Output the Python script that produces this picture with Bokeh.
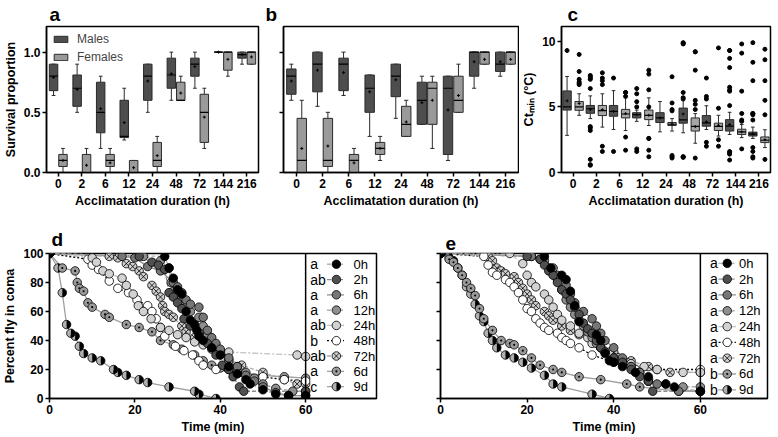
import numpy as np
from bokeh.plotting import figure
from bokeh.layouts import column, row
from bokeh.models import (Range1d, FixedTicker, NumeralTickFormatter, Legend,
                          LegendItem, Span, ColumnDataSource, CustomJSTickFormatter)
from bokeh.transform import dodge
from bokeh.embed import file_html
from bokeh.resources import INLINE
from bokeh.core.properties import value

FONT = "Liberation Sans"

# ---------------- data ----------------
durations = ["0", "2", "6", "12", "24", "48", "72", "144", "216"]

# box stats per duration: (whisker_low, q1, median, q3, whisker_high, mean)
a_males = [(0.64, 0.68, 0.80, 0.90, 0.90, 0.79), (0.50, 0.55, 0.70, 0.81, 0.90, 0.69),
           (0.20, 0.33, 0.50, 0.75, 0.80, 0.53), (0.27, 0.29, 0.30, 0.60, 0.70, 0.415),
           (0.50, 0.60, 0.80, 0.90, 0.90, 0.76), (0.60, 0.70, 0.81, 0.95, 1.00, 0.82),
           (0.70, 0.80, 0.90, 0.95, 1.00, 0.88), (1.00, 1.00, 1.00, 1.00, 1.00, 1.00),
           (0.90, 0.95, 0.98, 1.00, 1.00, 0.98)]
a_females = [(0.0, 0.05, 0.10, 0.15, 0.20, 0.10), (0.0, 0.0, 0.0, 0.15, 0.20, 0.06),
             (0.0, 0.05, 0.10, 0.15, 0.20, 0.08), (0.0, 0.0, 0.0, 0.10, 0.10, 0.04),
             (0.0, 0.05, 0.10, 0.25, 0.30, 0.14), (0.60, 0.60, 0.60, 0.75, 0.80, 0.66),
             (0.20, 0.25, 0.50, 0.65, 0.70, 0.46), (0.80, 0.85, 1.00, 1.00, 1.00, 0.94),
             (0.90, 0.90, 1.00, 1.00, 1.00, 0.96)]
b_males = [(0.60, 0.65, 0.80, 0.86, 0.90, 0.76), (0.55, 0.67, 0.90, 1.00, 1.00, 0.85),
           (0.64, 0.68, 0.90, 0.95, 1.00, 0.83), (0.30, 0.50, 0.70, 0.81, 0.81, 0.67),
           (0.45, 0.63, 0.80, 0.90, 0.90, 0.77), (0.40, 0.40, 0.60, 0.75, 0.80, 0.58),
           (0.10, 0.15, 0.70, 0.80, 0.80, 0.52), (0.70, 0.80, 1.00, 1.00, 1.00, 0.92),
           (0.80, 0.84, 0.90, 1.00, 1.00, 0.92)]
b_females = [(0.0, 0.0, 0.10, 0.45, 0.60, 0.20), (0.0, 0.05, 0.10, 0.45, 0.50, 0.22),
             (0.0, 0.0, 0.10, 0.15, 0.20, 0.08), (0.10, 0.15, 0.20, 0.25, 0.30, 0.20),
             (0.30, 0.30, 0.40, 0.55, 0.60, 0.42), (0.20, 0.40, 0.70, 0.75, 0.80, 0.60),
             (0.50, 0.50, 0.60, 0.80, 0.90, 0.64), (0.90, 0.90, 1.00, 1.00, 1.00, 0.94),
             (0.90, 0.90, 1.00, 1.00, 1.00, 0.94)]
c_males = [(2.83, 4.76, 5.00, 6.22, 7.32, 5.46), (4.11, 4.51, 4.86, 5.11, 5.84, 4.80),
           (3.28, 4.29, 4.66, 5.11, 6.24, 4.66), (3.90, 4.16, 4.41, 4.56, 4.76, 4.41),
           (3.10, 3.81, 4.16, 4.56, 5.41, 4.16), (3.03, 3.76, 4.01, 4.91, 5.79, 4.46),
           (3.28, 3.53, 3.78, 4.34, 5.09, 3.86), (2.90, 3.16, 3.53, 4.03, 4.59, 3.66),
           (2.60, 2.78, 2.93, 3.08, 3.46, 2.95)]
c_females = [(4.36, 4.74, 5.00, 5.41, 6.00, 5.26), (3.46, 4.34, 4.71, 5.11, 6.00, 4.79),
             (3.20, 4.16, 4.46, 4.81, 5.84, 4.49), (3.58, 4.03, 4.36, 4.76, 5.69, 4.36),
             (3.16, 3.58, 3.68, 3.81, 4.11, 3.70), (2.23, 3.16, 3.51, 4.16, 4.49, 3.50),
             (2.78, 3.20, 3.51, 3.76, 4.36, 3.60), (2.66, 2.90, 3.10, 3.30, 3.66, 3.10),
             (1.90, 2.28, 2.46, 2.71, 3.26, 2.50)]
c_males_out = [[9.3], [7.4, 7.3, 7.2, 7.1, 6.4, 3.5, 3.4, 3.2, 1.0, 0.6, 0.55], [7.2, 1.6],
               [6.4, 6.0, 5.4, 5.0, 1.8, 1.6], [], [9.9, 9.85, 9.8, 6.1, 5.7, 5.6, 1.2, 1.2, 1.15],
               [7.2, 5.8, 5.6, 2.3, 2.0], [9.3, 9.3, 8.7, 8.0, 6.5, 6.3, 6.2, 5.1, 1.6, 1.5, 1.4, 0.95],
               [9.9, 8.4, 7.0, 4.5, 4.5, 4.4, 4.0, 1.9, 1.6, 1.2, 1.1]]
c_females_out = [[9.0, 7.7, 7.1, 6.9, 6.8, 6.7], [7.6, 7.2, 7.0, 6.7, 2.0, 1.6],
                 [6.1, 6.1, 5.8, 2.7, 1.7], [7.8, 7.5, 6.3, 5.0, 2.6, 2.6, 1.7, 1.2],
                 [7.3, 5.3, 4.8, 4.7, 1.3, 1.2, 1.1], [9.2, 9.2, 7.8, 5.5, 5.2, 4.8, 1.1],
                 [9.5, 4.9, 2.5, 2.0], [9.8, 9.1, 6.2, 4.5, 4.0, 3.9, 1.8],
                 [9.4, 8.6, 7.0, 5.5, 4.4, 1.0]]

series_names = ["0h", "2h", "6h", "12h", "24h", "48h", "72h", "6d", "9d"]
d_letters = ["a", "ab", "a", "a", "ab", "b", "ab", "a", "c"]
e_letters = ["a", "a", "a", "a", "a", "a", "a", "b", "b"]

# panel d: (time min, percent in coma)
d_0h = [(0, 100), (27, 98), (28, 90), (29, 83), (30, 75), (31, 72), (32, 60), (33, 54), (34, 51),
        (34.5, 47), (35, 43), (36, 40), (38, 35), (40, 30), (42, 22), (44, 17), (46, 13), (47, 10),
        (50, 6), (53, 3), (56, 2), (60, 2)]
d_2h = [(0, 100), (21, 98), (24, 94), (25.5, 92), (27, 89), (28, 73), (29, 70), (30, 66), (31, 62),
        (31.5, 55), (33, 50), (35, 45), (37, 38), (39, 30), (40.5, 23), (42, 20), (43, 15), (44.5, 8),
        (45.5, 5), (60, 5)]
d_6h = [(0, 100), (17, 98), (20, 97), (23, 91), (26, 88), (29, 80), (30, 77), (31, 73), (32, 68),
        (33, 65), (35, 63), (36, 56), (37, 47), (38, 42), (39, 38), (40, 34), (42, 28), (44, 22),
        (46, 16), (48, 12), (50, 8), (53, 4), (56, 2), (60, 2)]
d_12h = [(0, 100), (22, 98), (26, 95), (28, 90), (28.5, 80), (29, 74), (30, 70), (31, 67), (32, 63),
         (33, 60), (35, 56), (36, 50), (37, 44), (38, 38), (40, 32), (42, 26), (44, 22), (46, 18),
         (48, 14), (50, 10), (53, 7), (57, 5), (60, 5)]
d_24h = [(0, 100), (10, 97), (11, 94), (12.5, 88), (14, 86), (17, 83), (18, 78), (19.6, 72),
         (20.8, 64), (22, 60), (23.8, 55), (26, 49), (28, 47), (30, 44), (32, 42), (34, 39), (36, 37),
         (38, 35), (40, 33), (42, 32), (58, 30), (60, 29)]
d_48h = [(0, 100), (9, 96), (10, 92), (11.5, 89), (14, 81), (16, 76), (18.5, 73), (20.5, 68),
         (23, 64), (24, 60), (25, 55), (26, 49), (27, 43), (29.5, 36), (31.5, 33), (33.5, 30),
         (35, 26), (36, 23), (39, 20), (44, 18), (50, 15), (55, 13), (60, 12)]
d_72h = [(0, 100), (14, 98), (16, 97), (18, 93), (19.5, 91), (21, 88), (22, 84), (24, 78), (25, 74),
         (26, 70), (26.5, 64), (27, 60), (28, 58), (29, 56), (31, 50), (32, 46), (34, 42), (36, 38),
         (38, 34), (40, 30), (42, 27), (45, 23), (50, 18), (55, 13), (58, 10), (60, 10)]
d_6d = [(0, 100), (3, 90), (6, 88), (6.5, 80), (7, 76), (8, 74), (9, 66), (10, 63), (13, 58),
        (14, 56), (18, 51), (21, 49), (24, 46), (26, 40), (29, 37), (31, 34), (34, 30), (36, 26),
        (38, 23), (40, 21), (42, 20), (45, 18), (50, 16), (55, 15), (60, 14)]
d_9d = [(0, 100), (2, 90), (3, 73), (4, 51), (5, 45), (6, 43), (7, 36), (8, 31), (10, 28), (12, 26),
        (15, 20), (16, 18), (18, 16), (21, 13), (23, 11), (28, 8), (34, 5), (35, 3), (39, 0)]

# panel e
e_0h = [(0, 100), (24, 98), (25.5, 90), (28, 85), (29, 82), (30, 74), (31, 64), (32, 53), (36, 44),
        (37, 40), (38, 31), (39, 26), (40, 25), (42, 22), (45, 18), (48, 15), (52, 10), (54, 8), (60, 5)]
e_2h = [(0, 100), (20, 98), (23, 96), (24, 92), (25, 88), (26, 85), (27, 80), (28, 75), (29, 72),
        (30, 68), (31, 63), (32, 58), (33, 52), (34, 48), (35, 45), (36, 40), (37, 35), (38, 32),
        (40, 28), (42, 25), (44, 20), (46, 15), (48, 12), (49, 5), (60, 5)]
e_6h = [(0, 100), (21, 98), (23, 96), (25, 90), (27, 85), (29, 78), (30, 72), (31, 66), (33, 60),
        (35, 55), (36, 50), (37, 45), (38, 40), (40, 35), (42, 28), (44, 22), (46, 18), (48, 12),
        (50, 10), (55, 5), (60, 5)]
e_12h = [(0, 100), (21, 98), (24, 95), (26, 90), (27, 82), (28, 75), (29, 68), (30, 63), (31, 58),
         (32, 54), (33, 50), (34, 46), (35, 42), (36, 38), (37, 35), (38, 32), (40, 28), (42, 25),
         (44, 22), (46, 18), (48, 12), (52, 10), (56, 8), (60, 8)]
e_24h = [(0, 100), (16, 100), (19, 93), (20, 85), (21, 80), (22, 77), (24, 72), (25, 68), (26, 63),
         (27, 58), (28, 54), (30, 50), (32, 45), (34, 42), (35, 38), (37, 35), (39, 32), (41, 28),
         (44, 24), (47, 22), (50, 20), (56, 18), (60, 18)]
e_48h = [(0, 100), (10, 98), (11, 92), (12, 87), (13, 85), (15, 82), (16, 80), (17, 77), (18, 73),
         (19, 68), (20, 62), (21, 60), (22, 55), (23, 52), (24, 49), (25, 47), (27, 45), (28, 42),
         (29, 40), (30, 38), (32, 35), (35, 30), (40, 25), (45, 20), (50, 20), (60, 20)]
e_72h = [(0, 100), (11, 98), (12, 95), (13, 90), (14, 88), (15, 86), (17, 84), (18, 80), (19, 76),
         (20, 72), (21, 68), (22, 64), (24, 60), (25, 57), (26, 54), (28, 50), (30, 47), (32, 44),
         (36, 40), (40, 32), (44, 26), (48, 22), (53, 18), (60, 18)]
e_6d = [(0, 100), (2, 96), (3, 94), (4, 90), (5, 85), (6, 80), (7, 76), (8, 71), (9, 62), (10, 55),
        (12, 47), (14, 40), (16, 38), (17, 37), (19, 33), (21, 28), (23, 23), (26, 20), (28, 18),
        (32, 15), (37, 13), (43, 10), (46, 8), (55, 5), (60, 5)]
e_9d = [(0, 100), (2, 97), (3, 95), (4, 90), (5, 85), (6, 77), (7, 72), (8, 65), (9, 57), (10, 53),
        (11, 45), (12, 40), (13, 35), (15, 30), (17, 28), (19, 25), (21, 21), (24, 16), (26, 10),
        (28, 8), (35, 3), (39, 0)]

d_series = [d_0h, d_2h, d_6h, d_12h, d_24h, d_48h, d_72h, d_6d, d_9d]
e_series = [e_0h, e_2h, e_6h, e_12h, e_24h, e_48h, e_72h, e_6d, e_9d]

# ---------------- styles ----------------
MALE_C = "#4e4e4e"
FEMALE_C = "#9a9a9a"
series_styles = [
    dict(marker="circle", fill="black", lc="#b4b4b4", dash="4 2"),
    dict(marker="circle", fill="#505050", lc="#8c8c8c", dash="4 2"),
    dict(marker="circle", fill="#767676", lc="#8c8c8c", dash="solid"),
    dict(marker="circle", fill="#8f8f8f", lc="#a0a0a0", dash="4 2"),
    dict(marker="circle", fill="#d2d2d2", lc="#c0c0c0", dash="6 2 2 2"),
    dict(marker="circle", fill="white", lc="black", dash="2 2"),
    dict(marker="circle_x", fill="#cfcfcf", lc="#a8a8a8", dash="4 2"),
    dict(marker="circle_dot", fill="#9a9a9a", lc="#a0a0a0", dash="solid"),
    dict(marker="half", fill="#b0b0b0", lc="#a0a0a0", dash="solid"),
]


def style_axes(p, hide_y_labels=False):
    for ax in p.axis:
        ax.axis_line_width = 1.5
        ax.axis_line_color = "black"
        ax.major_tick_line_width = 1.5
        ax.major_tick_line_color = "black"
        ax.major_tick_in = 0
        ax.major_tick_out = 4
        ax.minor_tick_line_color = None
        ax.major_label_text_font = FONT
        ax.major_label_text_font_style = "bold"
        ax.major_label_text_font_size = "12px"
        ax.major_label_text_color = "black"
        ax.axis_label_text_font = FONT
        ax.axis_label_text_font_style = "bold"
        ax.axis_label_text_font_size = "12.5px"
        ax.axis_label_text_color = "black"
        ax.major_label_standoff = 2
        ax.axis_label_standoff = 3
    if hide_y_labels:
        p.yaxis.formatter = CustomJSTickFormatter(code="return ''")
        p.yaxis.major_label_standoff = 0
    p.xgrid.visible = False
    p.ygrid.visible = False
    p.outline_line_color = "black"
    p.outline_line_width = 1.5
    p.outline_line_alpha = 1.0


def panel_label(p, text, dx, standoff):
    p.title.text = text
    p.title.text_font = FONT
    p.title.text_font_size = "19px"
    p.title.text_font_style = "bold"
    p.title.text_color = "black"
    p.title.align = "left"
    p.title.offset = dx
    p.title.standoff = standoff


def draw_boxes(p, stats, offset, width, color, cap=0.16):
    lo, q1, med, q3, hi, mean = (list(v) for v in zip(*stats))
    src = ColumnDataSource(dict(cat=durations, lo=lo, q1=q1, med=med, q3=q3, hi=hi, mean=mean))
    xc = dodge("cat", offset, range=p.x_range)
    xl = dodge("cat", offset - cap / 2, range=p.x_range)
    xr = dodge("cat", offset + cap / 2, range=p.x_range)
    bl = dodge("cat", offset - width / 2, range=p.x_range)
    br = dodge("cat", offset + width / 2, range=p.x_range)
    wc = "#2a2a2a"
    p.segment(x0=xc, y0="lo", x1=xc, y1="q1", source=src, line_color=wc, line_width=1)
    p.segment(x0=xc, y0="q3", x1=xc, y1="hi", source=src, line_color=wc, line_width=1)
    p.segment(x0=xl, y0="lo", x1=xr, y1="lo", source=src, line_color=wc, line_width=1)
    p.segment(x0=xl, y0="hi", x1=xr, y1="hi", source=src, line_color=wc, line_width=1)
    r = p.vbar(x=xc, width=width, bottom="q1", top="q3", source=src, fill_color=color,
               line_color="#2a2a2a", line_width=1)
    p.segment(x0=bl, y0="med", x1=br, y1="med", source=src, line_color="black", line_width=1.2)
    p.scatter(x=xc, y="mean", source=src, marker="cross", size=3, line_color="black",
              line_width=1)
    return r


def draw_outliers(p, outs, offset):
    cats, vals = [], []
    for c, lst in zip(durations, outs):
        for v in lst:
            cats.append(c)
            vals.append(v)
    src = ColumnDataSource(dict(cat=cats, v=vals))
    p.scatter(x=dodge("cat", offset, range=p.x_range), y="v", source=src, marker="circle",
              size=4, fill_color="black", line_color="black")


def draw_marker(p, xs, ys, st, size=8.5):
    if st["marker"] == "half":
        p.wedge(x=xs, y=ys, radius=size / 2, radius_units="screen", start_angle=np.pi / 2,
                end_angle=3 * np.pi / 2, fill_color=st["fill"], line_color=None)
        p.wedge(x=xs, y=ys, radius=size / 2, radius_units="screen", start_angle=-np.pi / 2,
                end_angle=np.pi / 2, fill_color="black", line_color=None)
        p.scatter(x=xs, y=ys, marker="circle", size=size, fill_color=None,
                  line_color="black", line_width=0.8)
    else:
        p.scatter(x=xs, y=ys, marker=st["marker"], size=size, fill_color=st["fill"],
                  line_color="black", line_width=0.8)


def survival_panel(p, series, letters, lx):
    for pts, st in zip(series, series_styles):
        xs = [t for t, _ in pts]
        ys = [v for _, v in pts]
        p.line(xs, ys, line_color=st["lc"], line_dash=st["dash"], line_width=1.3)
    for pts, st in list(zip(series, series_styles))[::-1]:
        xs = [t for t, _ in pts]
        ys = [v for _, v in pts]
        draw_marker(p, xs, ys, st)
    p.add_layout(Span(location=60, dimension="height", line_color="black", line_width=1.5))
    # legend (letter, line + marker, label)
    x_letter, x_l0, x_l1, x_mark, x_label, y0, dy = lx
    for i, (name, let, st) in enumerate(zip(series_names, letters, series_styles)):
        yy = y0 - i * dy
        p.line([x_l0, x_l1], [yy, yy], line_color=st["lc"], line_dash=st["dash"], line_width=1.3)
        draw_marker(p, [x_mark], [yy], st)
    ys = [y0 - i * dy for i in range(len(series_names))]
    p.text(x=[x_letter] * len(ys), y=ys, text=letters, text_font=value(FONT),
           text_font_size="14px", text_baseline="middle", text_align="left", text_color="black")
    p.text(x=[x_label] * len(ys), y=ys, text=series_names, text_font=value(FONT),
           text_font_size="13px", text_baseline="middle", text_align="left", text_color="black")


# ---------------- top row ----------------
TOP_H = 212
TB, BB = 24, 40

pa = figure(width=263, height=TOP_H, x_range=durations, y_range=Range1d(0, 1.213),
            output_backend="svg", toolbar_location=None,
            min_border_left=30, min_border_right=5, min_border_top=TB, min_border_bottom=BB)
rm = draw_boxes(pa, a_males, -0.2, 0.36, MALE_C)
rf = draw_boxes(pa, a_females, 0.2, 0.36, FEMALE_C)
style_axes(pa)
pa.yaxis.ticker = FixedTicker(ticks=[0, 0.5, 1.0])
pa.yaxis.formatter = NumeralTickFormatter(format="0.0")
pa.yaxis.axis_label = "Survival proportion"
pa.xaxis.axis_label = "Acclimatation duration (h)"
leg = Legend(items=[LegendItem(label="Males", renderers=[rm]),
                    LegendItem(label="Females", renderers=[rf])],
             location="top_left", background_fill_alpha=0, border_line_color=None,
             label_text_font=FONT, label_text_font_size="12px", glyph_width=17,
             glyph_height=8, label_height=12, spacing=4, padding=2, margin=6,
             label_standoff=8)
pa.add_layout(leg)
panel_label(pa, "a", 3, 3)

pb = figure(width=256, height=TOP_H, x_range=durations, y_range=Range1d(0, 1.213),
            output_backend="svg", toolbar_location=None,
            min_border_left=20, min_border_right=1, min_border_top=TB, min_border_bottom=BB)
draw_boxes(pb, b_males, -0.2, 0.36, MALE_C)
draw_boxes(pb, b_females, 0.2, 0.36, FEMALE_C)
style_axes(pb, hide_y_labels=True)
pb.yaxis.ticker = FixedTicker(ticks=[0, 0.5, 1.0])
pb.xaxis.axis_label = "Acclimatation duration (h)"
panel_label(pb, "b", -18, 3)

pc = figure(width=255, height=TOP_H, x_range=durations, y_range=Range1d(0, 11.13),
            output_backend="svg", toolbar_location=None,
            min_border_left=30, min_border_right=4, min_border_top=TB, min_border_bottom=BB)
draw_boxes(pc, c_males, -0.26, 0.36, "#505050")
draw_boxes(pc, c_females, 0.26, 0.36, "#a6a6a6")
draw_outliers(pc, c_males_out, -0.26)
draw_outliers(pc, c_females_out, 0.26)
style_axes(pc)
pc.yaxis.ticker = FixedTicker(ticks=[0, 5, 10])
pc.yaxis.axis_label = "Ctₘᵢₙ (°C)"
pc.xaxis.axis_label = "Acclimatation duration (h)"
panel_label(pc, "c", 6, 3)

# ---------------- bottom row ----------------
BOT_H = 224
BTB, BBB = 41, 35

pd_ = figure(width=395, height=BOT_H, x_range=Range1d(0, 76.6), y_range=Range1d(0, 100),
             output_backend="svg", toolbar_location=None,
             min_border_left=30, min_border_right=19, min_border_top=BTB, min_border_bottom=BBB)
survival_panel(pd_, d_series, d_letters, (61.1, 65.0, 69.0, 67.2, 71.2, 92.6, 10.55))
style_axes(pd_)
pd_.xaxis.ticker = FixedTicker(ticks=[0, 20, 40, 60])
pd_.yaxis.ticker = FixedTicker(ticks=[0, 20, 40, 60, 80, 100])
pd_.yaxis.axis_label = "Percent fly in coma"
pd_.xaxis.axis_label = "Time (min)"
panel_label(pd_, "d", 2, 8)

pe = figure(width=376, height=BOT_H, x_range=Range1d(0, 75.5), y_range=Range1d(0, 100),
            output_backend="svg", toolbar_location=None,
            min_border_left=45, min_border_right=4, min_border_top=BTB, min_border_bottom=BBB)
survival_panel(pe, e_series, e_letters, (62.2, 64.2, 68.2, 66.2, 68.9, 93.2, 10.9))
style_axes(pe, hide_y_labels=True)
pe.xaxis.ticker = FixedTicker(ticks=[0, 20, 40, 60])
pe.yaxis.ticker = FixedTicker(ticks=[0, 20, 40, 60, 80, 100])
pe.xaxis.axis_label = "Time (min)"
panel_label(pe, "e", 5, 8)

layout = column(row(pa, pb, pc), row(pd_, pe))
open("out.html", "w").write(file_html(layout, INLINE))
